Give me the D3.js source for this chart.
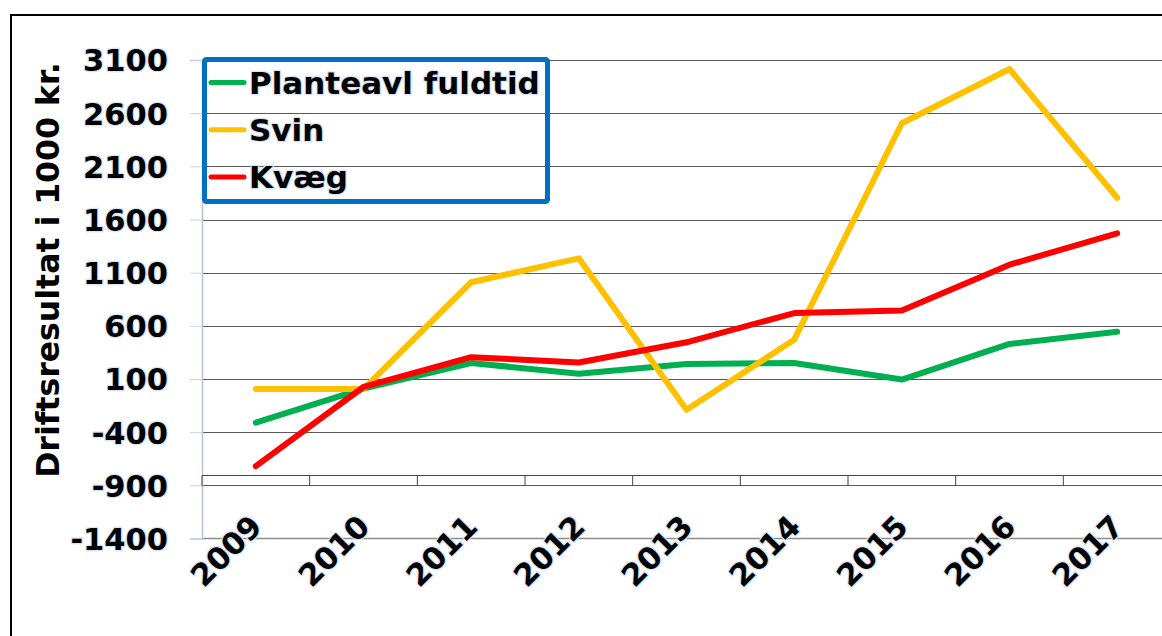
<!DOCTYPE html>
<html>
<head>
<meta charset="utf-8">
<script src="https://cdn.jsdelivr.net/npm/d3@7"></script>
<style>
  body { margin: 0; background: #fff; }
  svg { display: block; }
  text { font-family: "DejaVu Sans", Verdana, sans-serif; font-weight: bold; fill: #000; }
  .halo { stroke: #d6e4f5; stroke-width: 2.5px; paint-order: stroke; stroke-linejoin: round; }
</style>
</head>
<body>
<svg id="chart" width="1162" height="636"></svg>
<script>
// data
const years = ['2009', '2010', '2011', '2012', '2013', '2014', '2015', '2016', '2017'];
const planteavl = [-310, 10, 250, 150, 240, 250, 95, 430, 545];
const svin = [5, 5, 1010, 1235, -190, 470, 2505, 3015, 1805];
const kvaeg = [-720, 25, 305, 255, 445, 720, 745, 1175, 1470];
const yTicks = [3100, 2600, 2100, 1600, 1100, 600, 100, -400, -900, -1400];

const series = [
  { name: 'Planteavl fuldtid', values: planteavl, colour: '#00b050' },
  { name: 'Svin', values: svin, colour: '#ffc000' },
  { name: 'Kvæg', values: kvaeg, colour: '#ff0000' }
];

const svg = d3.select('#chart');
const margin = { left: 202, top: 60 };
const innerWidth = 969;
const innerHeight = 478.5;

// outer frame (runs off the right and bottom of the picture)
svg.append('rect')
  .attr('x', 11).attr('y', 15)
  .attr('width', 1300).attr('height', 800)
  .attr('fill', 'none').attr('stroke', '#000').attr('stroke-width', 2);

const xScale = d3.scaleBand()
  .domain(years)
  .range([0, innerWidth]);

const yScale = d3.scaleLinear()
  .domain([-1400, 3100])
  .range([innerHeight, 0]);

const g = svg.append('g')
  .attr('transform', `translate(${margin.left},${margin.top})`);

// gridlines
g.append('g')
  .selectAll('line')
  .data(yTicks.filter(t => t !== -1400))
  .join('line')
    .attr('x1', 0).attr('x2', innerWidth)
    .attr('y1', d => Math.round(yScale(d)) + 0.5)
    .attr('y2', d => Math.round(yScale(d)) + 0.5)
    .attr('stroke', '#5a5a5a')
    .attr('stroke-width', 1);

// bottom edge of plot area
g.append('line')
  .attr('x1', 0).attr('x2', innerWidth)
  .attr('y1', innerHeight).attr('y2', innerHeight)
  .attr('stroke', '#8c8c8c').attr('stroke-width', 1.5);

// y axis, plain numbers with a hyphen minus
const yAxis = d3.axisLeft(yScale)
  .tickValues(yTicks)
  .tickFormat(d => String(d))
  .tickSize(12)
  .tickPadding(22);

const yAxisG = g.append('g').call(yAxis);
yAxisG.select('.domain').attr('stroke', '#b8c2d2').attr('stroke-width', 1.5);
yAxisG.selectAll('.tick line').attr('stroke', '#c5d5ec');
yAxisG.selectAll('.tick text')
  .attr('class', 'halo')
  .style('font-size', '30.5px')
  .attr('dy', '0.36em');

// category axis sitting at -800 with ticks down to the -900 gridline
const xAxisY = yScale(-800);
const tickLen = yScale(-900) - yScale(-800);
const xAxisG = g.append('g')
  .attr('transform', `translate(0,${Math.round(xAxisY) + 0.5})`);
xAxisG.append('line')
  .attr('x1', 0).attr('x2', innerWidth)
  .attr('stroke', '#444').attr('stroke-width', 1);
xAxisG.selectAll('.sep')
  .data(years)
  .join('line')
    .attr('class', 'sep')
    .attr('x1', d => xScale(d)).attr('x2', d => xScale(d))
    .attr('y1', 0).attr('y2', tickLen)
    .attr('stroke', '#444').attr('stroke-width', 1);

// rotated year labels
g.append('g')
  .selectAll('text')
  .data(years)
  .join('text')
    .attr('class', 'halo')
    .attr('text-anchor', 'end')
    .style('font-size', '30.5px')
    .attr('transform', d => `translate(${xScale(d) + xScale.bandwidth() / 2 + 8},${yScale(-1400) - 10}) rotate(-45)`)
    .text(d => d);

// y title
svg.append('text')
  .attr('transform', 'translate(59,270) rotate(-90)')
  .attr('text-anchor', 'middle')
  .style('font-size', '31.5px')
  .text('Driftsresultat i 1000 kr.');

// lines
const lineGen = d3.line()
  .x((d, i) => xScale(years[i]) + xScale.bandwidth() / 2)
  .y(d => yScale(d));

g.append('g')
  .selectAll('path')
  .data(series)
  .join('path')
    .attr('d', d => lineGen(d.values))
    .attr('fill', 'none')
    .attr('stroke', d => d.colour)
    .attr('stroke-width', 6)
    .attr('stroke-linecap', 'round')
    .attr('stroke-linejoin', 'round');

// legend
const legend = svg.append('g');
legend.append('rect')
  .attr('x', 204.5).attr('y', 59.5)
  .attr('width', 343).attr('height', 142)
  .attr('rx', 2)
  .attr('fill', 'none')
  .attr('stroke', '#0070c0')
  .attr('stroke-width', 5);

const items = legend.selectAll('.item')
  .data(series)
  .join('g')
    .attr('class', 'item')
    .attr('transform', (d, i) => `translate(0,${82.5 + i * 47.3})`);

items.append('line')
  .attr('x1', 211).attr('x2', 244)
  .attr('stroke', d => d.colour)
  .attr('stroke-width', 5)
  .attr('stroke-linecap', 'round');

items.append('text')
  .attr('class', 'halo')
  .attr('x', 249)
  .attr('dy', '0.36em')
  .style('font-size', '31px')
  .text(d => d.name);
</script>
</body>
</html>
